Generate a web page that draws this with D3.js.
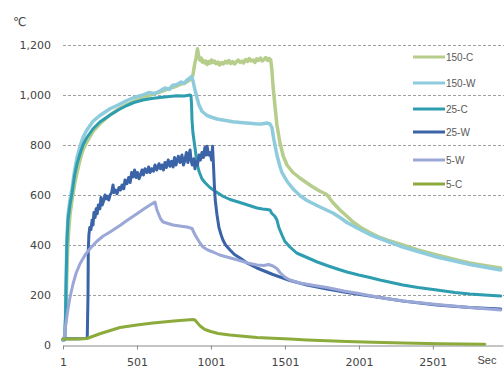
<!DOCTYPE html>
<html><head><meta charset="utf-8">
<script src="https://cdn.jsdelivr.net/npm/d3@7"></script>
<style>
html,body{margin:0;padding:0;background:#fff;}
svg{display:block;}
</style></head>
<body>
<svg id="chart" width="504" height="374"></svg>
<script>
// ---- data ----
const seriesNames = ["150-C","150-W","25-C","25-W","5-W","5-C"];
const seriesColors = ["#b6cd8b","#8ecbdc","#2e9db0","#3b63a7","#9aa7d7","#8dab3d"];
const xTickValues = [1,501,1001,1501,2001,2501];
const yTickValues = [0,200,400,600,800,1000,1200];

const s150C = [[1,20],[12,22],[20,110],[26,260],[32,380],[40,460],[48,520],[62,580],[82,650],[100,700],[116,740],[136,780],[160,810],[204,855],[250,885],[319,920],[386,948],[433,962],[501,980],[542,990],[600,1002],[656,1012],[700,1022],[740,1030],[771,1036],[800,1044],[830,1050],[852,1058],[866,1064],[879,1080],[890,1120],[900,1148],[910,1185],[918,1155],[925,1140],[935,1148],[942,1132],[950,1138],[958,1128],[966,1136],[975,1122],[985,1134],[995,1127],[1005,1140],[1015,1130],[1025,1136],[1035,1125],[1048,1132],[1060,1120],[1072,1130],[1085,1124],[1098,1135],[1110,1128],[1122,1138],[1135,1126],[1148,1134],[1160,1124],[1172,1132],[1185,1140],[1198,1130],[1210,1136],[1222,1128],[1235,1142],[1248,1134],[1260,1146],[1272,1136],[1285,1140],[1298,1130],[1310,1145],[1322,1138],[1335,1148],[1348,1136],[1360,1142],[1372,1150],[1385,1138],[1395,1146],[1405,1140],[1413,1100],[1420,1040],[1433,960],[1447,880],[1467,810],[1490,755],[1515,720],[1555,690],[1602,668],[1650,648],[1690,632],[1738,615],[1771,606],[1790,598],[1805,585],[1825,570],[1873,540],[1920,515],[1961,492],[2008,472],[2075,450],[2143,430],[2200,418],[2298,400],[2400,380],[2528,360],[2650,342],[2751,328],[2850,318],[2960,308]];

const s150W = [[1,20],[12,22],[18,100],[22,250],[27,420],[35,520],[48,580],[62,625],[80,700],[96,750],[116,795],[136,830],[160,858],[204,895],[250,918],[319,945],[380,962],[433,978],[480,990],[542,1000],[580,1010],[620,1006],[656,1016],[690,1028],[720,1022],[740,1038],[771,1042],[800,1052],[820,1046],[840,1060],[859,1068],[870,1074],[879,1058],[893,1020],[906,990],[920,960],[940,935],[974,918],[1010,910],[1042,904],[1080,900],[1150,893],[1200,890],[1264,887],[1300,885],[1340,884],[1380,888],[1400,884],[1413,870],[1427,820],[1447,760],[1467,715],[1481,690],[1515,655],[1555,625],[1602,598],[1650,578],[1738,552],[1825,528],[1873,510],[1920,490],[2008,462],[2075,442],[2143,426],[2298,392],[2528,352],[2751,322],[2960,300]];

const s25C = [[1,20],[12,22],[18,110],[22,250],[27,400],[35,500],[48,560],[62,608],[80,680],[96,725],[116,765],[136,800],[160,828],[204,865],[250,892],[319,920],[380,942],[433,958],[480,970],[542,980],[600,986],[656,990],[720,994],[771,997],[820,996],[860,1000],[866,998],[870,960],[873,900],[879,850],[893,790],[906,730],[920,695],[940,665],[960,650],[994,630],[1030,615],[1082,595],[1130,582],[1197,570],[1260,558],[1312,548],[1350,544],[1380,542],[1400,540],[1413,526],[1433,515],[1447,500],[1460,470],[1481,440],[1500,415],[1535,392],[1580,368],[1650,350],[1720,332],[1785,318],[1850,305],[1920,292],[2000,280],[2075,270],[2143,260],[2298,240],[2400,230],[2528,220],[2650,210],[2751,204],[2850,200],[2960,196]];

const s25W = [[1,25],[100,25],[150,26],[165,28],[170,200],[172,380],[176,440],[182,470],[190,462],[198,500],[204,480],[210,530],[218,510],[225,545],[232,525],[240,560],[250,545],[258,590],[266,560],[275,575],[285,600],[292,585],[300,595],[310,580],[319,600],[330,610],[339,640],[346,610],[356,620],[366,605],[380,630],[390,620],[400,640],[412,625],[420,660],[433,645],[445,670],[455,650],[465,690],[474,672],[485,700],[495,670],[505,690],[515,665],[525,680],[535,700],[545,680],[555,705],[569,690],[580,712],[590,690],[600,705],[612,695],[623,720],[635,700],[650,725],[660,705],[670,720],[680,700],[690,730],[700,710],[712,740],[724,715],[735,735],[745,712],[755,750],[765,720],[780,755],[792,730],[805,760],[815,720],[825,740],[835,770],[845,730],[852,760],[860,780],[866,740],[875,720],[885,745],[893,705],[900,735],[910,720],[920,760],[930,740],[940,770],[950,750],[960,790],[968,760],[975,795],[985,760],[995,770],[1005,740],[1012,795],[1018,720],[1024,640],[1030,580],[1042,520],[1055,470],[1070,440],[1082,420],[1100,400],[1130,380],[1160,362],[1197,348],[1250,326],[1312,308],[1370,294],[1420,282],[1535,258],[1650,240],[1785,224],[1920,210],[2075,196],[2298,176],[2528,160],[2751,150],[2960,144]];

const s5W = [[1,20],[8,28],[20,85],[35,145],[48,190],[69,245],[90,288],[116,325],[150,360],[183,385],[230,415],[271,435],[319,452],[386,478],[433,498],[501,525],[550,545],[589,560],[623,572],[636,540],[660,505],[677,492],[744,480],[800,475],[839,472],[873,466],[890,445],[906,428],[930,405],[947,392],[980,380],[1015,372],[1060,360],[1109,352],[1183,340],[1250,328],[1312,320],[1360,318],[1390,322],[1420,316],[1447,306],[1467,290],[1500,272],[1535,260],[1602,248],[1700,238],[1785,230],[1900,216],[2000,206],[2143,190],[2298,176],[2528,162],[2751,150],[2960,140]];

const s5C = [[1,24],[100,24],[163,26],[250,45],[386,70],[500,80],[609,88],[750,96],[879,102],[893,100],[910,88],[930,75],[960,62],[1000,54],[1050,46],[1129,40],[1200,36],[1312,30],[1420,27],[1535,24],[1650,20],[1785,17],[1920,14],[2096,11],[2300,8],[2548,5],[2700,4],[2852,3]];

const seriesData = [s150C, s150W, s25C, s25W, s5W, s5C];
const legendY = [57, 83, 109, 132, 160, 184];

// ---- chart ----
const svg = d3.select("#chart");
const x = d3.scaleLinear().domain([1, 2975]).range([63, 503]);
const y = d3.scaleLinear().domain([0, 1200]).range([345, 45]);

// gridlines
svg.append("g").selectAll("line").data(yTickValues.filter(v => v > 0)).join("line")
  .attr("x1", 63).attr("x2", 504)
  .attr("y1", d => y(d) + 0.5).attr("y2", d => y(d) + 0.5)
  .attr("stroke", "#a0a0a0").attr("stroke-width", 1).attr("stroke-dasharray", "3,2");

// y axis labels
const yAx = svg.append("g").attr("transform", "translate(51,0)")
  .call(d3.axisLeft(y).tickValues(yTickValues).tickFormat(d3.format(",")).tickSize(0).tickPadding(0));
yAx.select(".domain").remove();
yAx.selectAll("text").attr("font-family", "DejaVu Sans").attr("font-size", 11).attr("fill", "#444");

// x axis
const xAx = svg.append("g").attr("transform", "translate(0,345.5)")
  .call(d3.axisBottom(x).tickValues(xTickValues).tickFormat(d3.format("d")).tickSize(4).tickSizeOuter(0).tickPadding(9));
xAx.select(".domain").attr("stroke", "#8a8a8a");
xAx.selectAll(".tick line").attr("stroke", "#8a8a8a");
xAx.selectAll("text").attr("font-family", "DejaVu Sans").attr("font-size", 11).attr("fill", "#444");

// lines
const line = d3.line().x(d => x(d[0])).y(d => y(d[1])).curve(d3.curveLinear);
svg.append("g").selectAll("path").data(seriesData).join("path")
  .attr("d", line).attr("fill", "none")
  .attr("stroke", (d, i) => seriesColors[i])
  .attr("stroke-width", (d, i) => i < 2 ? 3.5 : 3)
  .attr("stroke-linejoin", "round").attr("stroke-linecap", "round");

// legend
const lg = svg.append("g").selectAll("g").data(seriesNames).join("g")
  .attr("transform", (d, i) => `translate(0,${legendY[i]})`);
lg.append("line").attr("x1", 413).attr("x2", 445).attr("y1", 0).attr("y2", 0)
  .attr("stroke", (d, i) => seriesColors[i]).attr("stroke-width", 3);
lg.append("text").attr("x", 446).attr("y", 0).attr("dy", "0.35em")
  .attr("font-family", "Liberation Sans").attr("font-size", 10).attr("fill", "#595959")
  .text(d => d);

// unit labels
svg.append("text").attr("x", 13).attr("y", 26).attr("font-family", "DejaVu Sans")
  .attr("font-size", 12).attr("fill", "#444").text("℃");
svg.append("text").attr("x", 487).attr("y", 364).attr("text-anchor", "middle")
  .attr("font-family", "Liberation Sans").attr("font-size", 11).attr("fill", "#444").text("Sec");
</script>
</body></html>
